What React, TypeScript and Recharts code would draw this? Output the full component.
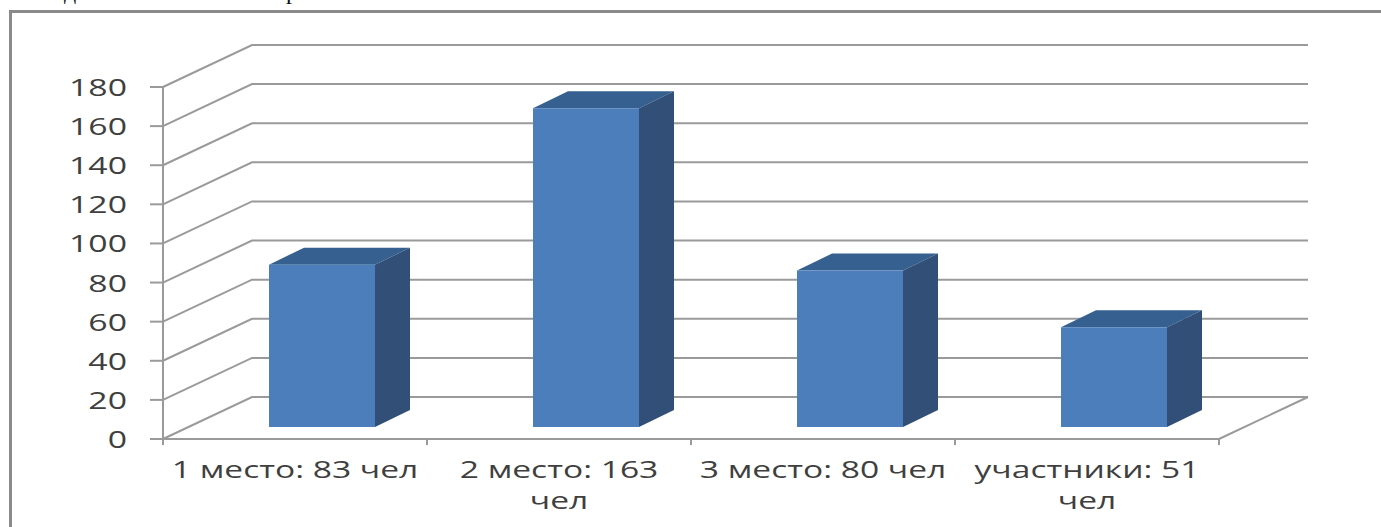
import { BarChart, Bar, XAxis, YAxis, CartesianGrid } from 'recharts';

const categories = ['1 место: 83 чел', '2 место: 163 чел', '3 место: 80 чел', 'участники: 51 чел'];
const categoryLines = [['1 место: 83 чел'], ['2 место: 163', 'чел'], ['3 место: 80 чел'], ['участники: 51', 'чел']];
const values = [83, 163, 80, 51];
const yTicks = [0, 20, 40, 60, 80, 100, 120, 140, 160, 180];

const data = categories.map((name, i) => ({ name, value: values[i] }));

const WIDTH = 1381;
const HEIGHT = 527;
const BACK_DX = 89;
const BACK_DY = 42;
const GRID = '#9a9a9a';
const TEXT = '#3f3f3f';
const FONT = '"Open Sans", sans-serif';

function GridLine(props: any) {
  const { x1, x2, y1 } = props;
  return (
    <g fill="none" stroke={GRID} strokeWidth={2}>
      <polyline points={`${x1},${y1} ${x1 + BACK_DX},${y1 - BACK_DY} ${x2 + BACK_DX},${y1 - BACK_DY}`} />
      {y1 > 430 && <line x1={x2} y1={y1} x2={x2 + BACK_DX} y2={y1 - BACK_DY} />}
    </g>
  );
}

function Box3D(props: any) {
  const { x, y, width, height } = props;
  // the bars stand part way into the floor, not on the front edge
  const left = x + 27;
  const top = y - 12;
  const right = left + width;
  const bottom = top + height;
  const dx = 35;
  const dy = 17;
  return (
    <g>
      <polygon points={`${left},${top} ${left + dx},${top - dy} ${right + dx},${top - dy} ${right},${top}`} fill="#35608f" />
      <polygon points={`${right},${top} ${right + dx},${top - dy} ${right + dx},${bottom - dy} ${right},${bottom}`} fill="#324f78" />
      <rect x={left} y={top} width={width} height={height} fill="#4c7ebb" />
    </g>
  );
}

function YTick(props: any) {
  const { x, y, payload } = props;
  return (
    <text
      transform={`translate(${x} ${y + 9}) scale(1.47 1)`}
      textAnchor="end"
      fontFamily={FONT}
      fontSize={23}
      fill={TEXT}
    >
      {payload.value}
    </text>
  );
}

function XTick(props: any) {
  const { x, y, index } = props;
  const half = 132;
  const lines = categoryLines[index];
  return (
    <g>
      <line x1={x - half} y1={y - 8} x2={x - half} y2={y - 2} stroke={GRID} strokeWidth={2} />
      {index === categories.length - 1 && (
        <line x1={x + half} y1={y - 8} x2={x + half} y2={y - 2} stroke={GRID} strokeWidth={2} />
      )}
      {lines.map((line, i) => (
        <text
          key={line}
          transform={`translate(${x} ${y + 31 + i * 31}) scale(1.46 1)`}
          textAnchor="middle"
          fontFamily={FONT}
          fontSize={23}
          fill={TEXT}
        >
          {line}
        </text>
      ))}
    </g>
  );
}

export default function App() {
  return (
    <div style={{ position: 'absolute', left: 0, top: 0, width: WIDTH, height: HEIGHT, background: '#fff', overflow: 'hidden' }}>
      {/* cut-off line of text above the frame */}
      <div style={{ position: 'absolute', left: 64, top: -22, fontFamily: '"Liberation Serif", serif', fontSize: 24, color: '#111' }}>д</div>
      <div style={{ position: 'absolute', left: 286, top: -22, fontFamily: '"Liberation Serif", serif', fontSize: 24, color: '#111' }}>р</div>
      <div style={{ position: 'absolute', left: 9, top: 10, width: WIDTH, height: HEIGHT, borderLeft: '3px solid #8a8a8a', borderTop: '3px solid #8a8a8a' }} />
      <div style={{ position: 'absolute', left: 0, top: 0 }}>
        <BarChart
          width={WIDTH}
          height={HEIGHT}
          data={data}
          margin={{ top: 87, right: 162, bottom: 0, left: 0 }}
          barCategoryGap={0}
        >
          <CartesianGrid vertical={false} horizontal={(p: any) => <GridLine key={p.key} {...p} />} />
          <XAxis
            dataKey="name"
            interval={0}
            height={88}
            stroke={GRID}
            strokeWidth={2}
            tickLine={false}
            tick={(p: any) => <XTick {...p} />}
          />
          <YAxis
            domain={[0, 180]}
            ticks={yTicks}
            width={163}
            interval={0}
            stroke={GRID}
            strokeWidth={2}
            tickSize={13}
            tickLine={{ stroke: GRID, strokeWidth: 2 }}
            tick={(p: any) => <YTick {...p} />}
            tickMargin={23}
          />
          <Bar dataKey="value" barSize={106} isAnimationActive={false} shape={(p: any) => <Box3D {...p} />} />
        </BarChart>
      </div>
    </div>
  );
}
